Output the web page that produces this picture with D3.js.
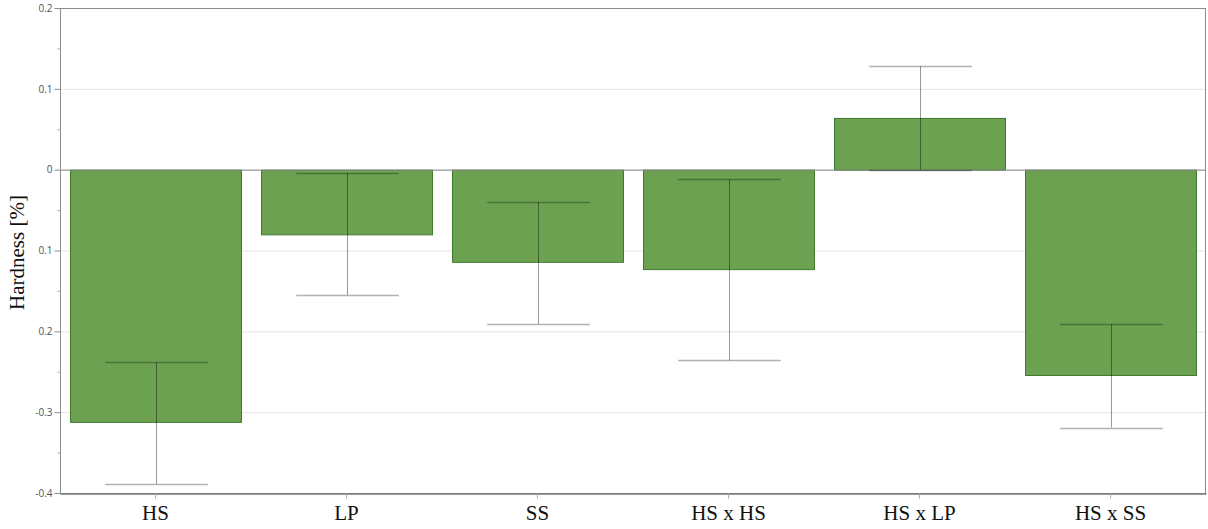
<!DOCTYPE html>
<html>
<head>
<meta charset="utf-8">
<script src="https://cdn.jsdelivr.net/npm/d3@7"></script>
<style>
  body { margin: 0; background: #fff; }
</style>
</head>
<body>
<svg id="chart"></svg>
<script>
// factors and effects
const factors = ["HS", "LP", "SS", "HS x HS", "HS x LP", "HS x SS"];
const effects = [-0.312, -0.080, -0.114, -0.123, 0.064, -0.254];
const errLow  = [-0.389, -0.155, -0.191, -0.236, 0.000, -0.319];
const errHigh = [-0.238, -0.004, -0.040, -0.012, 0.128, -0.191];

const tickValues = [0.2, 0.1, 0, -0.1, -0.2, -0.3, -0.4];
const tickLabels = ["0.2", "0.1", "0", "0.1", "0.2", "-0.3", "-0.4"];
const minorTicks = [0.15, 0.05, -0.05, -0.15, -0.25, -0.35];

function drawEffects(svgSelector, width, height) {
    const svg = d3.select(svgSelector)
        .attr("width", width)
        .attr("height", height);

    const margin = { top: 8, right: 2, bottom: 36, left: 60 };

    const x = d3.scaleBand()
        .domain(factors)
        .range([margin.left, width - margin.right])
        .paddingInner(0.105)
        .paddingOuter(0.0525);

    const y = d3.scaleLinear()
        .domain([-0.4, 0.2])
        .range([height - margin.bottom, margin.top]);

    // grid lines
    svg.append("g")
        .selectAll("line")
        .data(tickValues.filter(d => d != 0.2 && d != -0.4))
        .enter().append("line")
        .attr("x1", margin.left)
        .attr("x2", width - margin.right)
        .attr("y1", d => y(d) + 0.5)
        .attr("y2", d => y(d) + 0.5)
        .attr("stroke", "#e4e4e4");

    // bars
    svg.append("g")
        .selectAll("rect")
        .data(factors)
        .enter().append("rect")
        .attr("x", d => x(d) + 0.5)
        .attr("width", x.bandwidth())
        .attr("y", (d, i) => y(Math.max(0, effects[i])) + 0.5)
        .attr("height", (d, i) => Math.abs(y(effects[i]) - y(0)))
        .attr("fill", "#6ca152")
        .attr("stroke", "#3e7a2c")
        .attr("stroke-width", 1);

    // zero line
    svg.append("line")
        .attr("x1", margin.left)
        .attr("x2", width - margin.right)
        .attr("y1", y(0) + 0.5)
        .attr("y2", y(0) + 0.5)
        .attr("stroke", "#8a8a8a");

    // error bars
    const capHalf = x.bandwidth() * 0.3;
    const err = svg.append("g")
        .attr("stroke", "#000")
        .attr("stroke-opacity", 0.4);

    factors.forEach((f, i) => {
        const cx = Math.round(x(f) + x.bandwidth() / 2) + 0.5;
        err.append("line")
            .attr("x1", cx).attr("x2", cx)
            .attr("y1", y(errLow[i])).attr("y2", y(errHigh[i]));
        [errLow[i], errHigh[i]].forEach(v => {
            err.append("line")
                .attr("x1", cx - capHalf).attr("x2", cx + capHalf)
                .attr("y1", Math.round(y(v)) + 0.5).attr("y2", Math.round(y(v)) + 0.5)
                .attr("stroke-opacity", 0.3)
                .attr("stroke-width", 1.5);
        });
    });

    // frame
    svg.append("rect")
        .attr("x", margin.left + 0.5)
        .attr("y", margin.top + 0.5)
        .attr("width", width - margin.left - margin.right - 1)
        .attr("height", height - margin.top - margin.bottom)
        .attr("fill", "none")
        .attr("stroke", "#8c8c8c");

    // y axis
    const yAxis = svg.append("g")
        .attr("transform", `translate(${margin.left + 0.5},0)`)
        .call(d3.axisLeft(y)
            .tickValues(tickValues)
            .tickSize(6)
            .tickFormat((d, i) => tickLabels[i]));
    yAxis.select(".domain").remove();
    yAxis.selectAll(".tick line").attr("stroke", "#8c8c8c");
    yAxis.selectAll(".tick text")
        .attr("x", -8)
        .attr("fill", "#4a5560")
        .attr("font-family", "Open Sans, sans-serif")
        .attr("font-size", "10px");

    svg.append("g")
        .attr("transform", `translate(${margin.left + 0.5},0)`)
        .call(d3.axisLeft(y).tickValues(minorTicks).tickSize(3).tickFormat(""))
        .call(g => g.select(".domain").remove())
        .selectAll(".tick line").attr("stroke", "#aaa");

    // x axis
    const xAxis = svg.append("g")
        .attr("transform", `translate(0,${height - margin.bottom + 0.5})`)
        .call(d3.axisBottom(x).tickSize(5).tickSizeOuter(0));
    xAxis.select(".domain").attr("stroke", "#7a7a7a").attr("stroke-width", 1.5);
    xAxis.selectAll(".tick line").attr("stroke", "#aaa");
    xAxis.selectAll(".tick text")
        .attr("y", 12)
        .attr("fill", "#111")
        .attr("font-family", "Liberation Serif, Times New Roman, serif")
        .attr("font-size", "21px");

    // y label
    svg.append("text")
        .attr("transform", `translate(24,${(margin.top + height - margin.bottom) / 2 + 2}) rotate(-90)`)
        .attr("text-anchor", "middle")
        .attr("font-family", "Liberation Serif, Times New Roman, serif")
        .attr("font-size", "21px")
        .attr("fill", "#111")
        .text("Hardness [%]");
}

drawEffects("#chart", 1208, 529);
</script>
</body>
</html>
